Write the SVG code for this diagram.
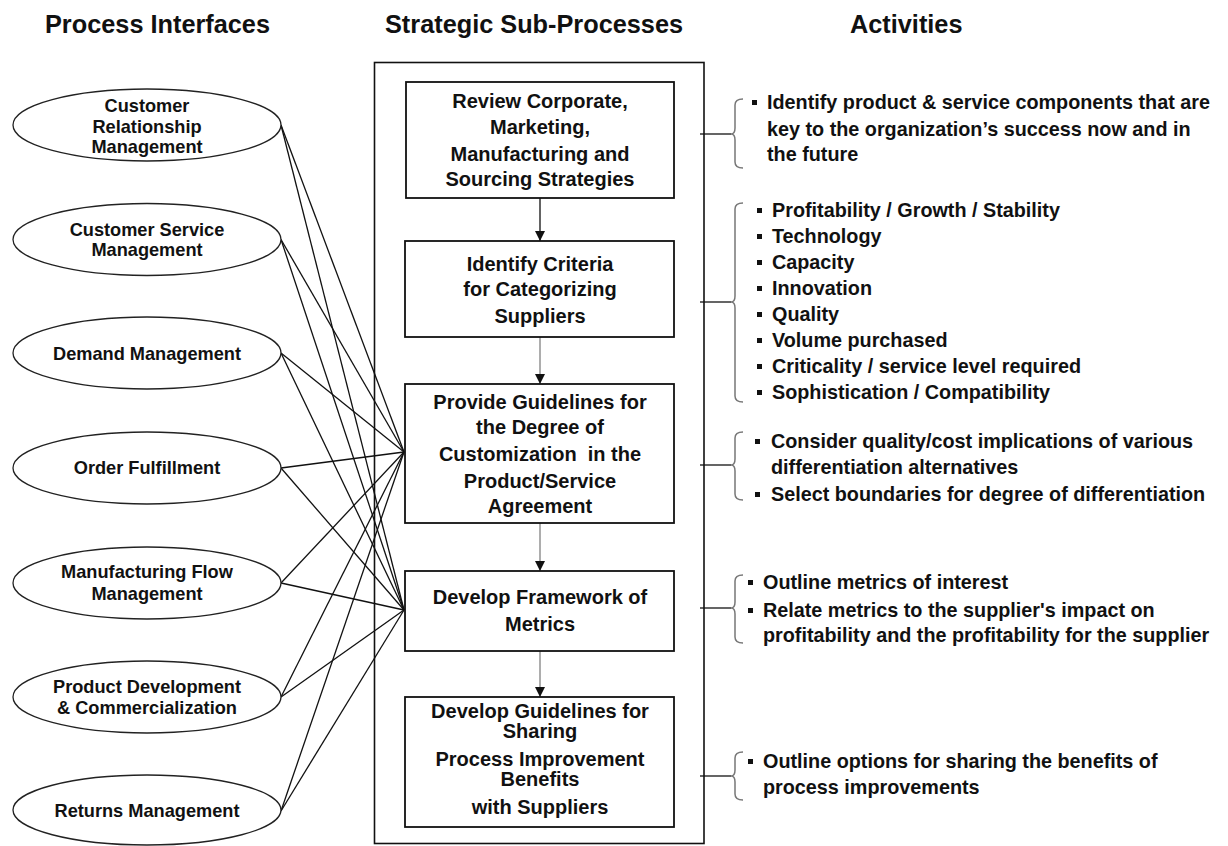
<svg xmlns="http://www.w3.org/2000/svg" width="1228" height="846" viewBox="0 0 1228 846">
<defs>
<marker id="ah" viewBox="0 0 10 10" refX="10" refY="5" markerWidth="10" markerHeight="10" markerUnits="userSpaceOnUse" orient="auto">
<path d="M0,0 L10,5 L0,10 Z" fill="#111"/>
</marker>
<style>
text{font-family:"Liberation Sans",Arial,sans-serif;font-weight:bold;fill:#111}
.hd{font-size:25.3px}
.el{font-size:18.2px;text-anchor:middle}
.bx{font-size:20px;text-anchor:middle}
.ac{font-size:19.8px}
.oval{fill:#fff;stroke:#222;stroke-width:1.3}
.box{fill:#fff;stroke:#111;stroke-width:1.8}
.ln{stroke:#111;stroke-width:1.3;fill:none}
.br{stroke:#777;stroke-width:1.5;fill:none}
.bul{fill:#111}
</style>
</defs>
<rect width="1228" height="846" fill="#fff"/>

<g id="headers">
<text class="hd" x="45" y="33">Process Interfaces</text>
<text class="hd" x="385" y="33">Strategic Sub-Processes</text>
<text class="hd" x="850" y="33">Activities</text>
</g>

<g id="connectors">
<line class="ln" x1="281" y1="125" x2="404" y2="452"/>
<line class="ln" x1="281" y1="125" x2="404" y2="610"/>
<line class="ln" x1="281" y1="239.5" x2="404" y2="452"/>
<line class="ln" x1="281" y1="239.5" x2="404" y2="610"/>
<line class="ln" x1="281" y1="353" x2="404" y2="452"/>
<line class="ln" x1="281" y1="353" x2="404" y2="610"/>
<line class="ln" x1="281" y1="468" x2="404" y2="452"/>
<line class="ln" x1="281" y1="468" x2="404" y2="610"/>
<line class="ln" x1="281" y1="583" x2="404" y2="452"/>
<line class="ln" x1="281" y1="583" x2="404" y2="610"/>
<line class="ln" x1="281" y1="697" x2="404" y2="452"/>
<line class="ln" x1="281" y1="697" x2="404" y2="610"/>
<line class="ln" x1="281" y1="811" x2="404" y2="452"/>
<line class="ln" x1="281" y1="811" x2="404" y2="610"/>
<line x1="540" y1="198" x2="540" y2="241" stroke="#222" stroke-width="1.4" marker-end="url(#ah)"/>
<line x1="540" y1="337" x2="540" y2="384" stroke="#999" stroke-width="1.6" marker-end="url(#ah)"/>
<line x1="540" y1="523" x2="540" y2="571" stroke="#999" stroke-width="1.6" marker-end="url(#ah)"/>
<line x1="540" y1="651" x2="540" y2="697" stroke="#999" stroke-width="1.6" marker-end="url(#ah)"/>
<line class="ln" x1="700" y1="134" x2="731" y2="134"/>
<line class="ln" x1="700" y1="302" x2="731" y2="302"/>
<line class="ln" x1="700" y1="465" x2="731" y2="465"/>
<line class="ln" x1="700" y1="608" x2="731" y2="608"/>
<line class="ln" x1="700" y1="776" x2="731" y2="776"/>
</g>

<g id="container">
<rect x="374.5" y="62.5" width="329.5" height="781" fill="none" stroke="#111" stroke-width="1.6"/>
</g>

<g id="pi-crm">
<ellipse class="oval" cx="147" cy="125" rx="134" ry="36"/>
<text class="el" x="147" y="112">Customer</text>
<text class="el" x="147" y="133">Relationship</text>
<text class="el" x="147" y="153">Management</text>
</g>
<g id="pi-csm">
<ellipse class="oval" cx="147" cy="239.5" rx="134" ry="36"/>
<text class="el" x="147" y="236">Customer Service</text>
<text class="el" x="147" y="256">Management</text>
</g>
<g id="pi-dm">
<ellipse class="oval" cx="147" cy="353" rx="134" ry="36"/>
<text class="el" x="147" y="360">Demand Management</text>
</g>
<g id="pi-of">
<ellipse class="oval" cx="147" cy="468" rx="134" ry="36"/>
<text class="el" x="147" y="474">Order Fulfillment</text>
</g>
<g id="pi-mfm">
<ellipse class="oval" cx="147" cy="583" rx="134" ry="36"/>
<text class="el" x="147" y="578">Manufacturing Flow</text>
<text class="el" x="147" y="600">Management</text>
</g>
<g id="pi-pdc">
<ellipse class="oval" cx="147" cy="697" rx="134" ry="36"/>
<text class="el" x="147" y="693">Product Development</text>
<text class="el" x="147" y="714">&amp; Commercialization</text>
</g>
<g id="pi-rm">
<ellipse class="oval" cx="147" cy="810" rx="134" ry="35"/>
<text class="el" x="147" y="817">Returns Management</text>
</g>

<g id="sp1">
<rect class="box" x="406" y="82" width="268" height="116"/>
<text class="bx" x="540" y="108">Review Corporate,</text>
<text class="bx" x="540" y="134">Marketing,</text>
<text class="bx" x="540" y="161">Manufacturing and</text>
<text class="bx" x="540" y="186">Sourcing Strategies</text>
</g>
<g id="sp2">
<rect class="box" x="405" y="241" width="269" height="96"/>
<text class="bx" x="540" y="271">Identify Criteria</text>
<text class="bx" x="540" y="296">for Categorizing</text>
<text class="bx" x="540" y="323">Suppliers</text>
</g>
<g id="sp3">
<rect class="box" x="405" y="384" width="269" height="139"/>
<text class="bx" x="540" y="409">Provide Guidelines for</text>
<text class="bx" x="540" y="434">the Degree of</text>
<text class="bx" x="540" y="461" xml:space="preserve">Customization  in the</text>
<text class="bx" x="540" y="488">Product/Service</text>
<text class="bx" x="540" y="513">Agreement</text>
</g>
<g id="sp4">
<rect class="box" x="405" y="571" width="269" height="80"/>
<text class="bx" x="540" y="604">Develop Framework of</text>
<text class="bx" x="540" y="631">Metrics</text>
</g>
<g id="sp5">
<rect class="box" x="405" y="697" width="269" height="130"/>
<text class="bx" x="540" y="718">Develop Guidelines for</text>
<text class="bx" x="540" y="738">Sharing</text>
<text class="bx" x="540" y="766">Process Improvement</text>
<text class="bx" x="540" y="786">Benefits</text>
<text class="bx" x="540" y="814">with Suppliers</text>
</g>

<g id="act1">
<path class="br" d="M743,99 C737,99 735,101 735,105 L735,128 C735,132 734,134 731,134 C734,134 735,136 735,140 L735,162 C735,166 737,168 743,168"/>
<rect class="bul" x="752" y="100" width="5" height="5"/>
<text class="ac" x="767" y="109">Identify product &amp; service components that are</text>
<text class="ac" x="767" y="136">key to the organization’s success now and in</text>
<text class="ac" x="767" y="161">the future</text>
</g>
<g id="act2">
<path class="br" d="M743,203 C737,203 735,205 735,209 L735,296 C735,300 734,302 731,302 C734,302 735,304 735,308 L735,396 C735,400 737,402 743,402"/>
<rect class="bul" x="757" y="208" width="5" height="5"/>
<rect class="bul" x="757" y="234" width="5" height="5"/>
<rect class="bul" x="757" y="260" width="5" height="5"/>
<rect class="bul" x="757" y="286" width="5" height="5"/>
<rect class="bul" x="757" y="312" width="5" height="5"/>
<rect class="bul" x="757" y="338" width="5" height="5"/>
<rect class="bul" x="757" y="364" width="5" height="5"/>
<rect class="bul" x="757" y="390" width="5" height="5"/>
<text class="ac" x="772" y="217">Profitability / Growth / Stability</text>
<text class="ac" x="772" y="243">Technology</text>
<text class="ac" x="772" y="269">Capacity</text>
<text class="ac" x="772" y="295">Innovation</text>
<text class="ac" x="772" y="321">Quality</text>
<text class="ac" x="772" y="347">Volume purchased</text>
<text class="ac" x="772" y="373">Criticality / service level required</text>
<text class="ac" x="772" y="399">Sophistication / Compatibility</text>
</g>
<g id="act3">
<path class="br" d="M743,432 C737,432 735,434 735,438 L735,459 C735,463 734,465 731,465 C734,465 735,467 735,471 L735,494 C735,498 737,500 743,500"/>
<rect class="bul" x="755" y="439" width="5" height="5"/>
<rect class="bul" x="755" y="492" width="5" height="5"/>
<text class="ac" x="771" y="448">Consider quality/cost implications of various</text>
<text class="ac" x="771" y="474">differentiation alternatives</text>
<text class="ac" x="771" y="501">Select boundaries for degree of differentiation</text>
</g>
<g id="act4">
<path class="br" d="M743,575 C737,575 735,577 735,581 L735,602 C735,606 734,608 731,608 C734,608 735,610 735,614 L735,637 C735,641 737,643 743,643"/>
<rect class="bul" x="748" y="580" width="5" height="5"/>
<rect class="bul" x="748" y="608" width="5" height="5"/>
<text class="ac" x="763" y="589">Outline metrics of interest</text>
<text class="ac" x="763" y="617">Relate metrics to the supplier's impact on</text>
<text class="ac" x="763" y="642">profitability and the profitability for the supplier</text>
</g>
<g id="act5">
<path class="br" d="M743,752 C737,752 735,754 735,758 L735,770 C735,774 734,776 731,776 C734,776 735,778 735,782 L735,794 C735,798 737,800 743,800"/>
<rect class="bul" x="748" y="759" width="5" height="5"/>
<text class="ac" x="763" y="768">Outline options for sharing the benefits of</text>
<text class="ac" x="763" y="794">process improvements</text>
</g>
</svg>
